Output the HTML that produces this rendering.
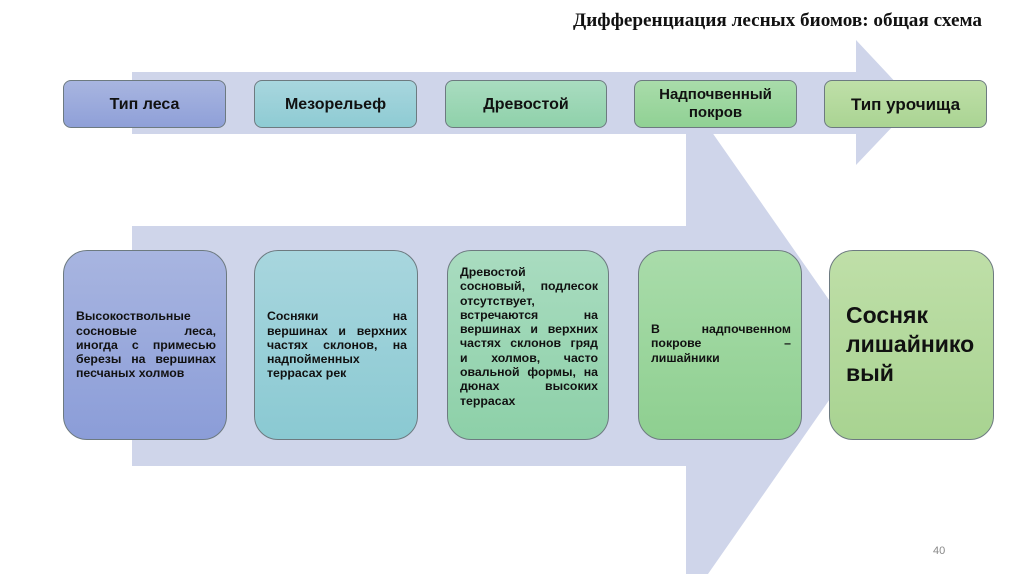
<!DOCTYPE html>
<html><head><meta charset="utf-8"><style>
body{margin:0;width:1024px;height:574px;background:#fff;position:relative;overflow:hidden;font-family:"Liberation Sans","DejaVu Sans",sans-serif}
.t{position:absolute;left:0;top:10px;width:982px;text-align:right;font-family:"Liberation Serif",serif;font-weight:bold;font-size:19.2px;color:#111}
.b{position:absolute;box-sizing:border-box;border:1px solid #6d7a80;border-radius:8px;display:flex;align-items:center;justify-content:center;text-align:center;font-weight:bold;color:#111}
.top{top:80px;height:48px;font-size:16px;line-height:19px}
.bot{top:250px;height:190px;border-radius:24px;font-size:12.3px;line-height:14.3px;padding:0 10px 0 12px;justify-content:flex-start;text-align:left}
.bot>div{width:100%}
.j{display:block;text-align:justify;text-align-last:justify}
.l{display:block;text-align:left}
.n{position:absolute;left:933px;top:545px;font-size:11px;color:#888}
</style></head><body>
<div class="t">Дифференциация лесных биомов: общая схема</div>
<svg width="1024" height="574" style="position:absolute;left:0;top:0;display:block">
<polygon points="132,72 856,72 856,40 915,103 856,165 856,134 132,134" fill="#cfd5ea"/>
<polygon points="132,226 686,226 686,95 864,350 708,574 686,574 686,466 132,466" fill="#cfd5ea"/>
</svg>
<div class="b top" style="left:63px;width:163px;background:linear-gradient(#a8b5e0,#8fa0d8)">Тип леса</div>
<div class="b top" style="left:254px;width:163px;background:linear-gradient(#a8d6de,#8ecbd3)">Мезорельеф</div>
<div class="b top" style="left:445px;width:162px;background:linear-gradient(#a9dcc0,#8fd1aa)">Древостой</div>
<div class="b top" style="left:634px;width:163px;background:linear-gradient(#a9dcaa,#90d194);font-size:15px;line-height:18px">Надпочвенный<br>покров</div>
<div class="b top" style="left:824px;width:163px;background:linear-gradient(#bfdfa8,#aad493);font-size:17px">Тип урочища</div>
<div class="b bot" style="left:63px;width:164px;background:linear-gradient(#a8b5e0,#8b9dd8)"><div><span class="l">Высокоствольные</span><span class="j">сосновые леса,</span><span class="j">иногда с примесью</span><span class="j">березы на вершинах</span><span class="l">песчаных холмов</span></div></div>
<div class="b bot" style="left:254px;width:164px;background:linear-gradient(#a8d6de,#8ac9d2)"><div><span class="j">Сосняки на</span><span class="j">вершинах и верхних</span><span class="j">частях склонов, на</span><span class="l">надпойменных</span><span class="l">террасах рек</span></div></div>
<div class="b bot" style="left:447px;width:162px;background:linear-gradient(#a9dcc0,#8dd0a8);align-items:flex-start;padding-top:14px"><div><span class="l">Древостой</span><span class="j">сосновый, подлесок</span><span class="l">отсутствует,</span><span class="j">встречаются на</span><span class="j">вершинах и верхних</span><span class="j">частях склонов гряд</span><span class="j">и холмов, часто</span><span class="j">овальной формы, на</span><span class="j">дюнах высоких</span><span class="l">террасах</span></div></div>
<div class="b bot" style="left:638px;width:164px;background:linear-gradient(#a9dcaa,#8ecf90);align-items:flex-start;padding-top:71px"><div><span class="j">В надпочвенном</span><span class="j">покрове –</span><span class="l">лишайники</span></div></div>
<div class="b bot" style="left:829px;width:165px;background:linear-gradient(#bfdfa8,#a8d391);align-items:flex-start;padding-top:50px;padding-left:16px;font-size:23px;line-height:29px"><div>Сосняк<br>лишайнико<br>вый</div></div>
<div class="n">40</div>
</body></html>
